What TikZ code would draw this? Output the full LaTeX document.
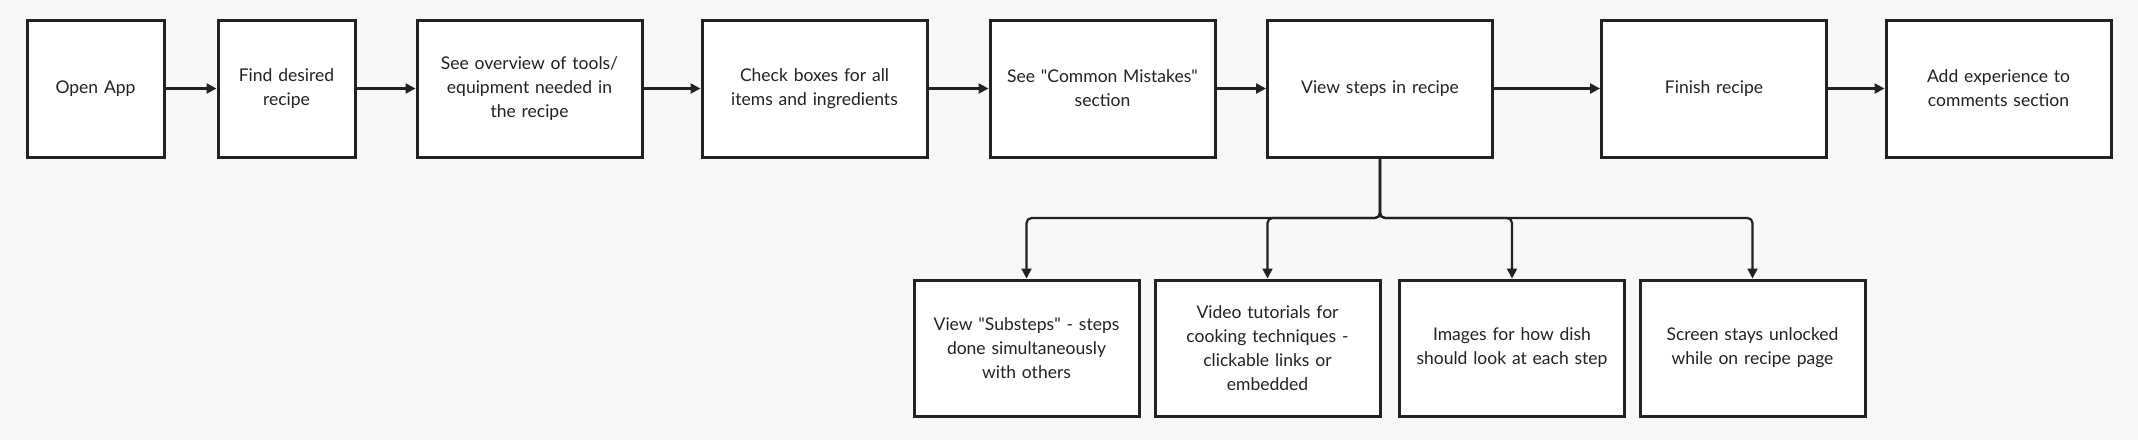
\documentclass[tikz,border=0pt]{standalone}
\usepackage{fontspec}
\setmainfont{Lato}
\usetikzlibrary{arrows.meta}
\definecolor{bg}{HTML}{F8F8F8}
\definecolor{ink}{HTML}{222222}
\tikzset{
  box/.style={draw=ink, line width=3pt, fill=white, minimum height=137pt, inner sep=0pt,
    align=center, font=\fontsize{17.5}{24}\selectfont, text=ink},
  wide/.style={box, minimum width=225pt, text width=215pt},
  narrow/.style={box, minimum width=137pt, text width=130pt},
  conn/.style={draw=ink, line width=2.4pt, -{Triangle[length=10pt,width=10pt]}},
  branch/.style={draw=ink, line width=2.2pt, rounded corners=5pt, -{Triangle[length=10pt,width=10pt]}}
}
\begin{document}
\begin{tikzpicture}[x=1pt,y=-1pt]
\fill[bg] (0,0) rectangle (2138,440);
\useasboundingbox (0,0) rectangle (2138,440);
\node[narrow] (a) at (95.5,88.5) {Open App};
\node[narrow] (b) at (286.5,88.5) {Find desired\\recipe};
\node[wide] (c) at (529.5,88.5) {See overview of tools/\\equipment needed in\\the recipe};
\node[wide] (d) at (814.5,88.5) {Check boxes for all\\items and ingredients};
\node[wide] (e) at (1102.5,88.5) {See \textquotedbl Common Mistakes\textquotedbl\\section};
\node[wide] (f) at (1380,88.5) {View steps in recipe};
\node[wide] (g) at (1714,88.5) {Finish recipe};
\node[wide] (h) at (1998.5,88.5) {Add experience to\\comments section};
\node[wide, minimum height=136pt] (s1) at (1026.5,348) {View \textquotedbl Substeps\textquotedbl\ - steps\\done simultaneously\\with others};
\node[wide, minimum height=136pt] (s2) at (1267.5,348) {Video tutorials for\\cooking techniques -\\clickable links or\\embedded};
\node[wide, minimum height=136pt] (s3) at (1512,348) {Images for how dish\\should look at each step};
\node[wide, minimum height=136pt] (s4) at (1752.5,348) {Screen stays unlocked\\while on recipe page};
\coordinate (j) at (1380,218);
\draw[conn] (a) -- (b);
\draw[conn] (b) -- (c);
\draw[conn] (c) -- (d);
\draw[conn] (d) -- (e);
\draw[conn] (e) -- (f);
\draw[conn] (f) -- (g);
\draw[conn] (g) -- (h);
\foreach \s in {s1,s2,s3,s4}{
  \draw[branch] (f.south) -- (j) -| (\s.north);
}
\end{tikzpicture}
\end{document}
